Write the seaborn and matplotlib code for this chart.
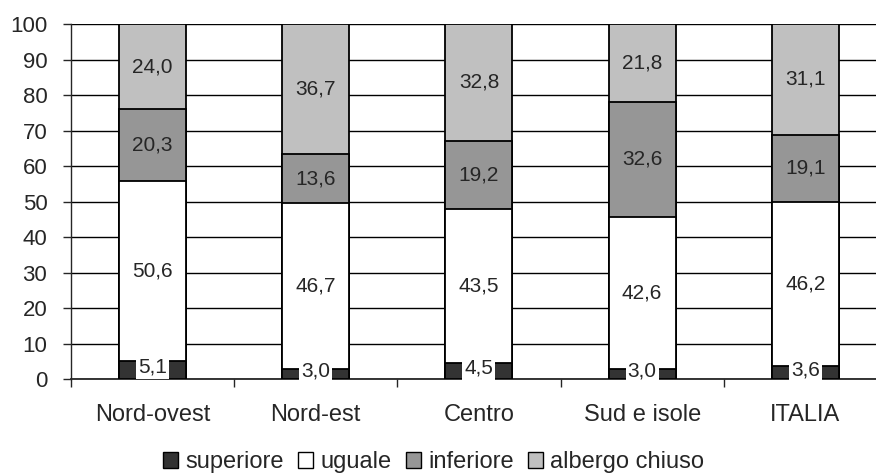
import numpy as np
import pandas as pd
import seaborn as sns
import matplotlib.pyplot as plt
from matplotlib.patches import Patch

# data
regions = ['Nord-ovest', 'Nord-est', 'Centro', 'Sud e isole', 'ITALIA']
superiore = [5.1, 3.0, 4.5, 3.0, 3.6]
uguale = [50.6, 46.7, 43.5, 42.6, 46.2]
inferiore = [20.3, 13.6, 19.2, 32.6, 19.1]
chiuso = [24.0, 36.7, 32.8, 21.8, 31.1]

series = ['superiore', 'uguale', 'inferiore', 'albergo chiuso']
colors = ['#333333', '#ffffff', '#969696', '#c0c0c0']

sns.set_style('white')
plt.rcParams['font.family'] = ['Liberation Sans', 'DejaVu Sans']

df = pd.DataFrame({'region': regions, 'superiore': superiore, 'uguale': uguale,
                   'inferiore': inferiore, 'albergo chiuso': chiuso})
cum = df[series].cumsum(axis=1)

fig = plt.figure(figsize=(8.76, 4.74), dpi=100)
# plot area runs past the right edge of the picture, as in the reference
ax = fig.add_axes([0.081, 0.2, 0.9315, 0.749])

# stacked bars: draw cumulative totals from the top down
for s, c in reversed(list(zip(series, colors))):
    sns.barplot(x=df['region'], y=cum[s], color=c, width=0.41, edgecolor='black',
                linewidth=1.3, saturation=1, ax=ax, zorder=3)

# value labels
for i in range(len(regions)):
    bottom = 0
    for s in series:
        v = df[s][i]
        txt = f'{v:.1f}'.replace('.', ',')
        if s == 'superiore':
            ax.text(i, v / 2 + 0.8, txt, ha='center', va='center', fontsize=15, zorder=5,
                    bbox=dict(facecolor='white', edgecolor='none', pad=1.5))
        else:
            ax.text(i, bottom + v / 2, txt, ha='center', va='center', fontsize=15, zorder=5)
        bottom += v

ax.set_ylim(0, 100)
ax.set_xlim(-0.5, len(regions) - 0.5)
ax.set_yticks(range(0, 101, 10))
ax.yaxis.grid(True, color='black', linewidth=1)
ax.set_axisbelow(True)
for sp in ['top', 'right']:
    ax.spines[sp].set_visible(False)
ax.spines['left'].set_linewidth(1)
ax.spines['bottom'].set_linewidth(1.3)
ax.set_xlabel('')
ax.set_ylabel('')
ax.tick_params(axis='y', direction='out', length=6, width=1, labelsize=16, pad=11, left=True)
ax.tick_params(axis='x', which='major', length=0, labelsize=17, pad=18)
ax.set_xticks(np.arange(-0.5, len(regions), 1), minor=True)
ax.tick_params(axis='x', which='minor', direction='out', length=6, width=1, bottom=True)

handles = [Patch(facecolor=c, edgecolor='black', linewidth=1) for c in colors]
fig.legend(handles, series, loc='center', bbox_to_anchor=(0.495, 0.025), ncol=4, frameon=False,
           fontsize=17, handlelength=0.64, handleheight=0.64, handletextpad=0.3,
           columnspacing=0.6, borderpad=0)

fig.savefig('out.png', dpi=100)
